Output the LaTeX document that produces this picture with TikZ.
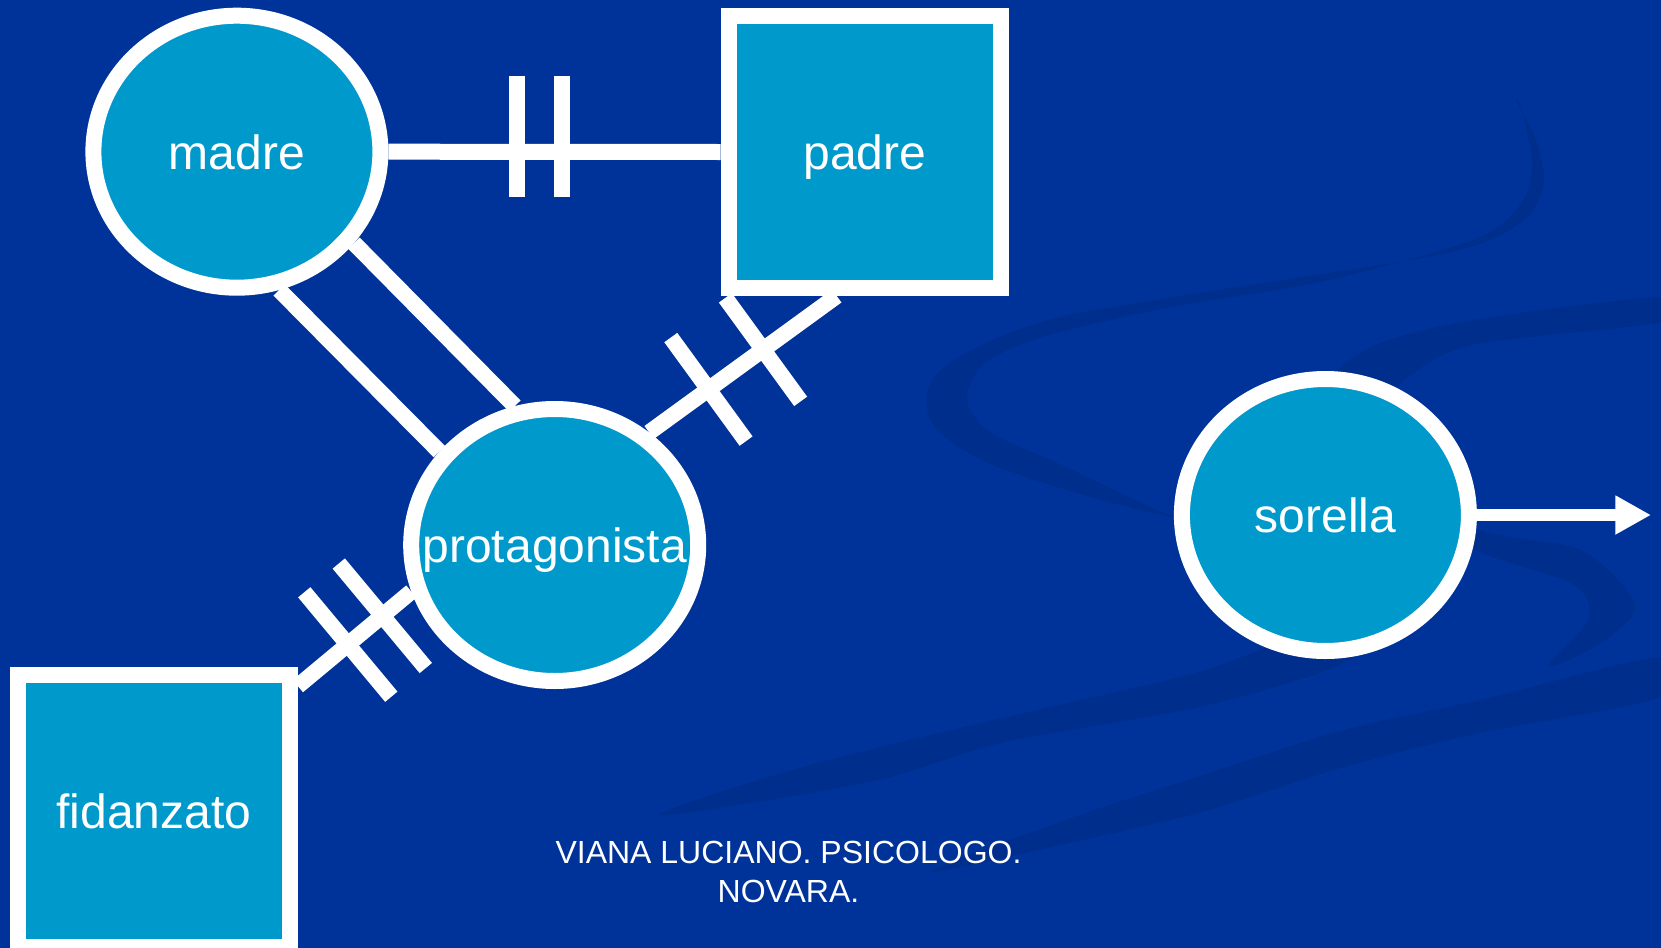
\documentclass[tikz,border=0pt]{standalone}
\usepackage{fontspec}
\setmainfont{Liberation Sans}
\usetikzlibrary{shapes.geometric,arrows.meta,calc}
\pgfdeclarelayer{back}
\pgfdeclarelayer{links}
\pgfsetlayers{back,links,main}
\definecolor{bgblue}{RGB}{0,51,153}
\definecolor{swirlblue}{RGB}{0,46,140}
\definecolor{nodeblue}{RGB}{0,153,204}
\begin{document}
\begin{tikzpicture}[x=0.5pt,y=-0.5pt,
  person/.style={draw=white,line width=8pt,fill=nodeblue,inner sep=0pt},
  fem/.style={person,ellipse,minimum width=143.5pt,minimum height=136pt},
  male/.style={person,rectangle,minimum width=136pt,minimum height=136pt},
  nametext/.style={text=white,font=\fontsize{24}{28}\selectfont,inner sep=0pt,text height=17.3pt,text depth=0pt},
  tie/.style={draw=white,line width=8pt},
  tickmark/.style={draw=white,line width=8pt},
  arrowlink/.style={draw=white,line width=6pt,-{Triangle[length=17.85pt,width=18.35pt]}},
  credit/.style={text=white,font=\fontsize{16}{19.35}\selectfont,align=center,inner sep=0pt},
  swirl/.style={fill=swirlblue}]
\useasboundingbox (0,0) rectangle (1661,948);
\begin{pgfonlayer}{back}
  \fill[bgblue] (0,0) rectangle (1661,948);
  % swirl ribbons
  \fill[swirl] plot[smooth cycle,tension=0.5] coordinates {
    (1516,100) (1536,140) (1544,180) (1530,215) (1490,240) (1422,258) (1217,290)
    (1064,316) (988,342) (942,369) (926,397) (937,430) (988,463) (1090,497) (1177,518)
    (1150,507) (1064,466) (990,432) (967,400) (983,365) (1039,338) (1166,308)
    (1320,282) (1473,240) (1520,205) (1532,165) (1522,110)};
  \fill[swirl] plot[smooth cycle,tension=0.5] coordinates {
    (1661,297) (1473,320) (1371,347) (1325,390) (1340,470) (1480,530) (1581,550)
    (1635,605) (1601,643) (1547,667) (1588,620) (1574,585) (1480,552) (1400,505)
    (1378,420) (1405,380) (1473,345) (1661,322)};
  \fill[swirl] plot[smooth cycle,tension=0.5] coordinates {
    (1320,630) (1195,673) (1006,717) (803,767) (660,815) (870,782) (1006,742)
    (1209,705) (1350,660)};
  \fill[swirl] plot[smooth cycle,tension=0.5] coordinates {
    (1661,657) (1480,700) (1344,730) (1209,773) (1074,817) (930,872)
    (1074,842) (1209,810) (1344,767) (1480,733) (1661,697)};
\end{pgfonlayer}

\node[fem,label={[nametext]center:madre}] (madre) at (236.9,151.7) {};
\node[male,label={[nametext]center:padre}] (padre) at (864.7,152) {};
\node[fem,label={[nametext]center:protagonista}] (prot) at (554.7,545) {};
\node[male,label={[nametext]center:fidanzato}] (fid) at (153.85,811.3) {};
\node[fem,label={[nametext]center:sorella}] (sorella) at (1325.4,515) {};
\coordinate (arrowend) at (1651,515);

\node[credit,anchor=north] (credit) at (788.5,840.7) {VIANA LUCIANO. PSICOLOGO.\\NOVARA.};

\begin{pgfonlayer}{links}
  % madre -- padre with two ticks
  \draw[tie] (madre.east) -- (padre.west)
     coordinate[pos=0.387] (mp1) coordinate[pos=0.522] (mp2);
  \draw[tickmark] ($(mp1)+(0,-76)$) -- ++(0,121);
  \draw[tickmark] ($(mp2)+(0,-76)$) -- ++(0,121);
  % madre == protagonista
  \draw[tie] (madre.-73.3) -- (prot.141.6);
  \draw[tie] (madre.-38.7) -- (prot.106.4);
  % padre -- protagonista with two ticks
  \draw[tie] (padre.-101.3) -- (prot.50.5)
     coordinate[pos=0.393] (pp2) coordinate[pos=0.684] (pp1);
  \draw[tickmark] ($(pp1)!32pt!90:(prot.50.5)$) -- ($(pp1)!32pt!-90:(prot.50.5)$);
  \draw[tickmark] ($(pp2)!32pt!90:(prot.50.5)$) -- ($(pp2)!32pt!-90:(prot.50.5)$);
  % fidanzato -- protagonista with two ticks
  \draw[tie] (fid.41.3) -- (prot.-162.6)
     coordinate[pos=0.44] (fp1) coordinate[pos=0.744] (fp2);
  \draw[tickmark] ($(fp1)!34pt!90:(prot.-162.6)$) -- ($(fp1)!34pt!-90:(prot.-162.6)$);
  \draw[tickmark] ($(fp2)!34pt!90:(prot.-162.6)$) -- ($(fp2)!34pt!-90:(prot.-162.6)$);
  % sorella arrow
  \draw[arrowlink] (sorella.east) -- (arrowend);
\end{pgfonlayer}
\end{tikzpicture}
\end{document}
